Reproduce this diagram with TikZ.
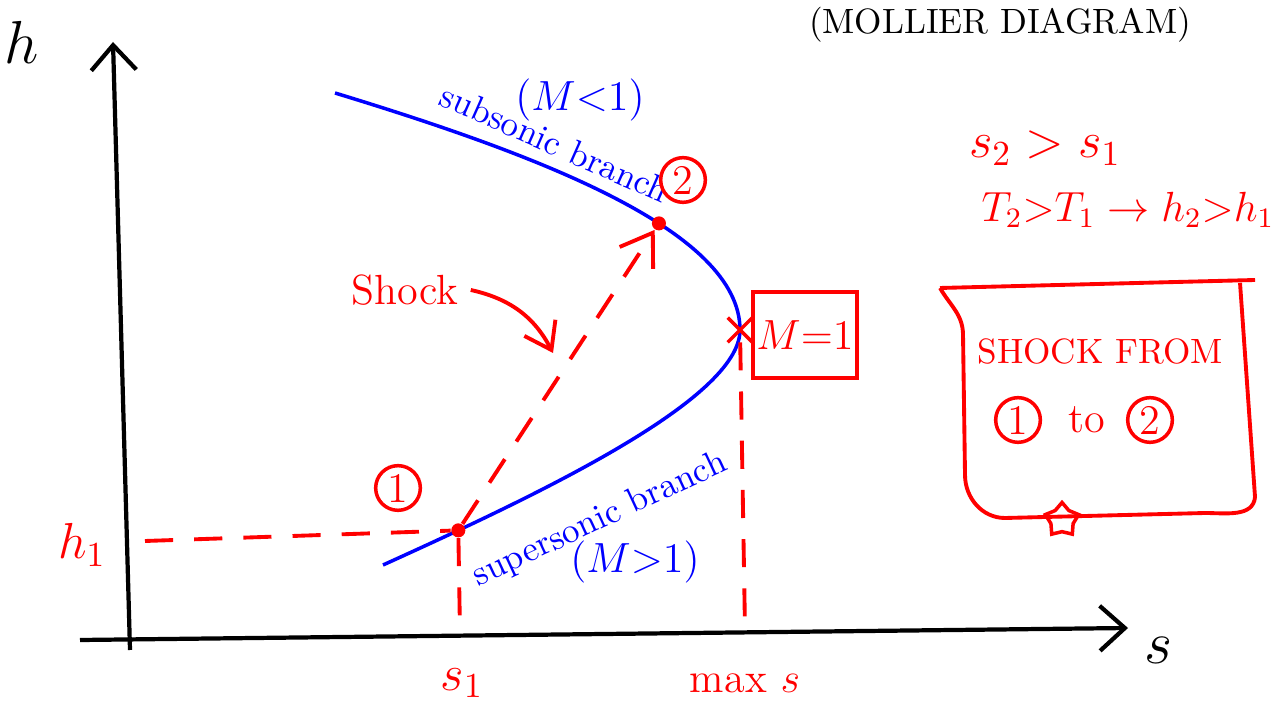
\documentclass[tikz,border=0pt]{standalone}
\usepackage{amsmath}
\usepackage{tikz}
\usetikzlibrary{arrows.meta,positioning,shapes.geometric,shapes.misc}

\begin{document}
\begin{tikzpicture}[
    font=\normalsize,
    axisline/.style={line width=1.2pt, -{Straight Barb[length=2.5mm, width=4.5mm]}},
    branch/.style={blue, line width=1pt},
    redline/.style={red, line width=1.1pt},
    guide/.style={redline, dash pattern=on 8pt off 6pt},
    redtext/.style={red, font=\Large},
    bluetext/.style={blue, font=\normalsize},
    numcirc/.style={draw=red, red, circle, line width=1pt, inner sep=1pt, minimum size=4.4mm, font=\large},
    ptdot/.style={circle, fill=red, inner sep=0pt, minimum size=4pt},
    xmark/.style={cross out, draw=red, line width=1pt, inner sep=0pt, minimum size=6pt}
]

\useasboundingbox (0,0) rectangle (12.83,7.05);

% --- Axes ---
\coordinate (yfoot) at (1.30,0.55);
\coordinate (ytop) at (1.13,6.63);
\coordinate (xleft) at (0.80,0.65);
\coordinate (xright) at (11.28,0.77);
\draw[axisline] (yfoot) -- (ytop);
\draw[axisline] (xleft) -- (xright);
\node[font=\LARGE] (hlab) at (0.22,6.63) {$h$};
\node[font=\LARGE] (slab) at (11.58,0.55) {$s$};

% --- Branches ---
\coordinate (tip) at (7.40,3.75);
\draw[branch] (3.35,6.12) .. controls (5.35,5.51) and (7.40,4.75) .. (tip) coordinate[pos=0.61] (p2);
\draw[branch] (tip) .. controls (7.40,3.05) and (5.33,2.08) .. (3.83,1.40) coordinate[pos=0.84] (p1);
\node[bluetext, rotate=-24] (sub) at (5.55,5.62) {subsonic branch};
\node[bluetext, font=\large] (subM) at (5.80,6.05) {$(M{<}1)$};
\node[bluetext, rotate=25] (sup) at (6.00,1.85) {supersonic branch};
\node[bluetext, font=\large] (supM) at (6.35,1.43) {$(M{>}1)$};

% --- States ---
\node[ptdot] (pt1) at (p1) {};
\node[ptdot] (pt2) at (p2) {};
\node[xmark] (sonic) at (tip) {};
\node[numcirc] (one) at (3.98,2.17) {1};
\node[numcirc] (two) at (6.83,5.25) {2};
\node[draw=red, line width=1pt, red, minimum width=9.6mm, minimum height=8.6mm, inner sep=1pt, font=\large] (mone) at (8.05,3.70) {$M{=}1$};

% --- Guide lines ---
\coordinate (h1foot) at (1.45,1.64);
\coordinate (s1foot) at (4.60,0.72);
\coordinate (maxfoot) at (7.45,0.75);
\draw[guide] (h1foot) -- (pt1);
\draw[guide] (pt1) -- (s1foot);
\draw[guide] (sonic) -- (maxfoot);
\node[redtext] (h1lab) at (0.82,1.60) {$h_1$};
\node[redtext] (s1lab) at (4.62,0.22) {$s_1$};
\node[redtext, font=\large] (maxlab) at (7.45,0.22) {max $s$};

% --- Shock ---
\draw[guide, -{Straight Barb[length=3mm, width=4mm]}] (pt1) -- (pt2);
\node[redtext, font=\large] (shock) at (4.05,4.15) {Shock};
\coordinate (shockhit) at (5.53,3.52);
\draw[redline, -{Straight Barb[length=2.5mm, width=3.5mm]}] (shock.east) to[bend left=25] (shockhit);

% --- Notes ---
\node (title) at (10.00,6.80) {(MOLLIER DIAGRAM)};
\node[redtext] (sineq) at (10.45,5.57) {$s_2 > s_1$};
\node[redtext, font=\large] (teq) at (11.28,4.95) {$T_2{>}T_1 \rightarrow h_2{>}h_1$};

\draw[redline] (9.40,4.17) -- (12.55,4.25);
\draw[redline] (12.40,4.22) -- (12.55,2.08) to[out=-95,in=0] (12.05,1.92) -- (10.05,1.87)
    to[out=180,in=-90] (9.65,2.30) -- (9.63,3.70) to[out=90,in=-60] (9.40,4.17);
\node[red] (from) at (11.00,3.53) {SHOCK FROM};
\node[numcirc] (onebis) at (10.18,2.85) {1};
\node[red, font=\large] (to) at (10.87,2.85) {to};
\node[numcirc] (twobis) at (11.50,2.85) {2};
\node[star, star points=5, draw=red, line width=1pt, minimum size=3.5mm, inner sep=0pt] (starmark) at (10.62,1.85) {};

\end{tikzpicture}
\end{document}
